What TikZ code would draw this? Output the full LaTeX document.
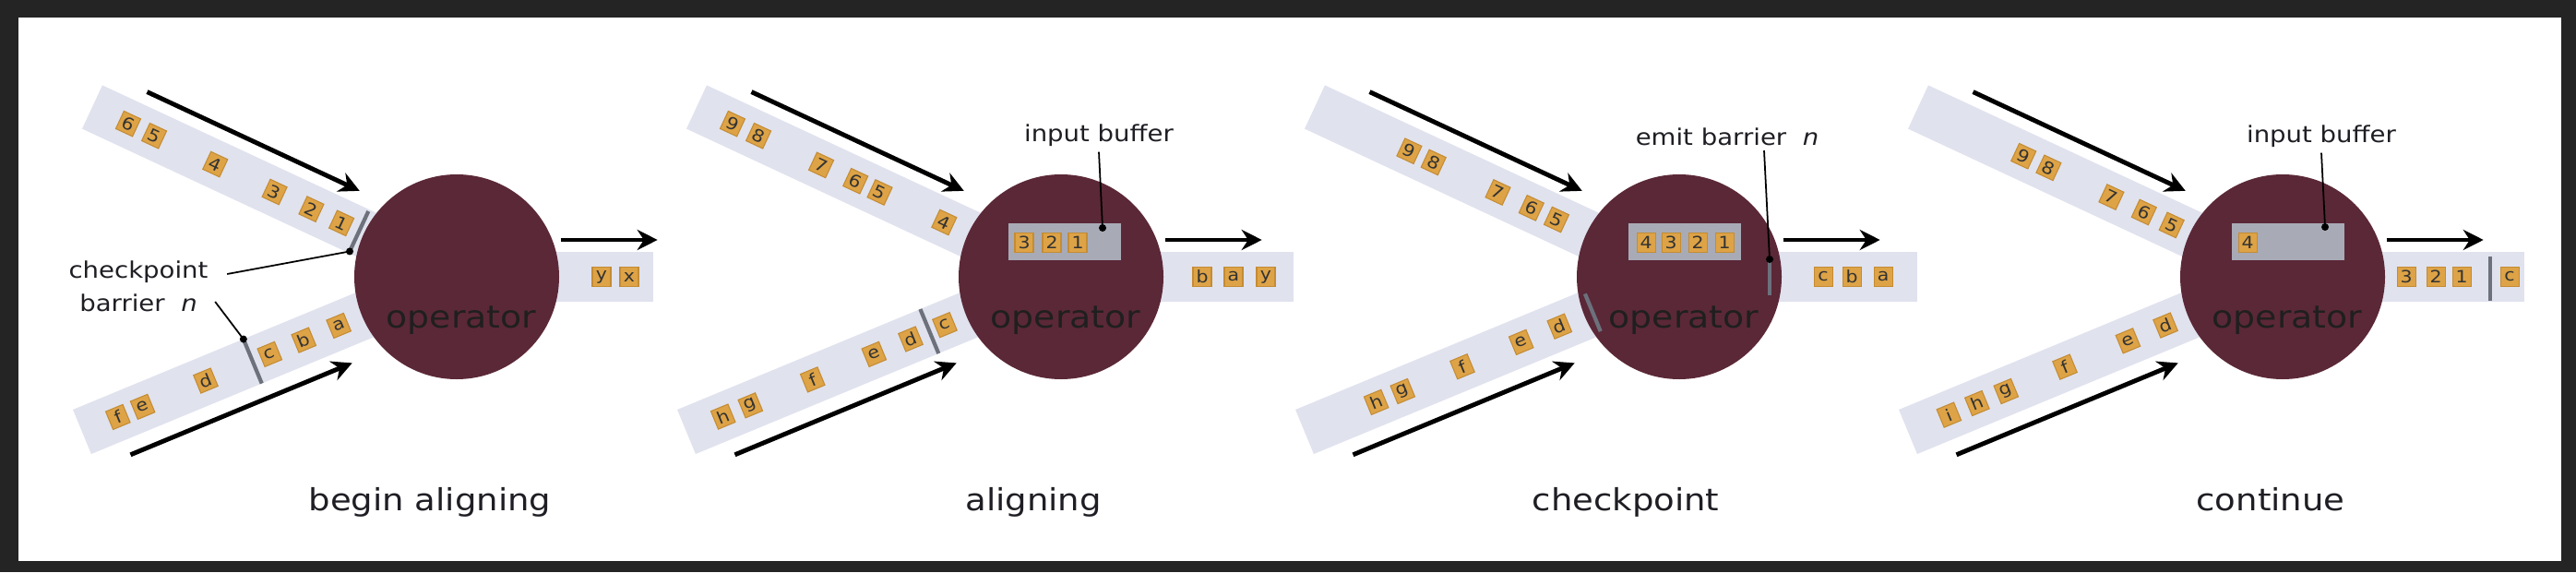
\documentclass[tikz,border=0pt]{standalone}
\usepackage{fontspec}
\setmainfont{DejaVu Sans}[FakeStretch=1.12]
\usepackage{tikz}
\usetikzlibrary{arrows.meta,calc}

\definecolor{framec}{RGB}{36,36,36}
\definecolor{bandc}{RGB}{224,226,238}
\definecolor{opc}{RGB}{91,40,55}
\definecolor{tokc}{RGB}{221,163,70}
\definecolor{tokd}{RGB}{196,140,52}
\definecolor{bufc}{RGB}{168,171,182}
\definecolor{barc}{RGB}{108,113,124}
\definecolor{textc}{RGB}{30,30,36}

\begin{document}
\begin{tikzpicture}[
  band/.style={draw=bandc, line width=0.52cm},
  outband/.style={draw=bandc, line width=0.54cm},
  op/.style={circle, fill=opc, minimum size=2.22cm, inner sep=0pt},
  optext/.style={anchor=base, font=\fontsize{9.6}{11}\selectfont, text=black!88},
  tok/.style={draw=tokd, line width=0.3pt, fill=tokc, minimum width=0.20cm,
              minimum height=0.21cm, inner sep=0pt, text=black!80,
              font=\fontsize{5.2}{5}\selectfont},
  buf/.style={fill=bufc, minimum width=1.22cm, minimum height=0.40cm, inner sep=0pt},
  flow/.style={-{Stealth[length=2.2mm,width=2.2mm]}, line width=1.4pt},
  barrier/.style={draw=barc, line width=1.2pt},
  lead/.style={line width=0.5pt},
  lbl/.style={font=\fontsize{7}{10.2}\selectfont, align=center, text=textc,
              inner sep=0.05cm},
  ttl/.style={anchor=base, font=\fontsize{9.4}{11}\selectfont, text=textc}
]
% Frame
\fill[framec] (0,0) rectangle (27.92,6.20);
\fill[white] (0.20,0.12) rectangle (27.76,6.01);
\useasboundingbox (0,0) rectangle (27.92,6.20);

% Panel 1: begin aligning
\begin{scope}[shift={(4.95,3.20)}]
\coordinate (c1) at (0,0);
\coordinate (u1) at (-3.95,1.84);
\coordinate (l1) at (-4.06,-1.68);
\draw[band] (u1) -- (c1);
\draw[band] (l1) -- (c1);
\draw[outband] (c1) -- (2.13,0);
\node[op] (op1) at (c1) {};
\node[optext] (opt1) at (0.05,-0.55) {operator};
% upper input
\node[tok, rotate=-25] (t1u1) at ($(u1)!2.98cm!(c1)$) {1};
\node[tok, rotate=-25] (t1u2) at ($(u1)!2.62cm!(c1)$) {2};
\node[tok, rotate=-25] (t1u3) at ($(u1)!2.18cm!(c1)$) {3};
\node[tok, rotate=-25] (t1u4) at ($(u1)!1.47cm!(c1)$) {4};
\node[tok, rotate=-25] (t1u5) at ($(u1)!0.74cm!(c1)$) {5};
\node[tok, rotate=-25] (t1u6) at ($(u1)!0.43cm!(c1)$) {6};
\draw[barrier] ($(u1)!3.19cm!(c1)!0.24cm!90:(c1)$)
  -- ($(u1)!3.19cm!(c1)!0.24cm!-90:(c1)$) coordinate (b1u);
% lower input
\node[tok, rotate=22.5] (t1la) at ($(l1)!3.01cm!(c1)$) {a};
\node[tok, rotate=22.5] (t1lb) at ($(l1)!2.60cm!(c1)$) {b};
\node[tok, rotate=22.5] (t1lc) at ($(l1)!2.20cm!(c1)$) {c};
\node[tok, rotate=22.5] (t1ld) at ($(l1)!1.45cm!(c1)$) {d};
\node[tok, rotate=22.5] (t1le) at ($(l1)!0.71cm!(c1)$) {e};
\node[tok, rotate=22.5] (t1lf) at ($(l1)!0.42cm!(c1)$) {f};
\draw[barrier] ($(l1)!2.00cm!(c1)!0.26cm!90:(c1)$) coordinate (b1l)
  -- ($(l1)!2.00cm!(c1)!0.26cm!-90:(c1)$);
% output
\node[tok] (t1oy) at (1.57,0) {y};
\node[tok] (t1ox) at (1.87,0) {x};
% flow arrows
\draw[flow] ($(u1)!0.47cm!(c1)!0.40cm!90:(c1)$) -- ($(u1)!3.01cm!(c1)!0.40cm!90:(c1)$);
\draw[flow] ($(l1)!0.39cm!(c1)!0.43cm!-90:(c1)$) -- ($(l1)!2.99cm!(c1)!0.43cm!-90:(c1)$);
\draw[flow] ($(op1.east)+(0.01,0.40)$) -- ++(1.05,0);
% barrier label
\node[lbl] (lbl1) at (-3.45,-0.10) {checkpoint\\barrier\ \ \textit{n}};
\draw[lead] ($(lbl1.east)+(0.15,0.13)$) -- (b1u);
\fill (b1u) circle (0.04);
\draw[lead] ($(lbl1.east)+(0.02,-0.17)$) -- (b1l);
\fill (b1l) circle (0.04);
\node[ttl] (ttl1) at (-0.29,-2.53) {begin aligning};
\end{scope}

% Panel 2: aligning
\begin{scope}[shift={(11.50,3.20)}]
\coordinate (c2) at (0,0);
\coordinate (u2) at (-3.95,1.84);
\coordinate (l2) at (-4.06,-1.68);
\draw[band] (u2) -- (c2);
\draw[band] (l2) -- (c2);
\draw[outband] (c2) -- (2.52,0);
\node[op] (op2) at (c2) {};
\node[optext] (opt2) at (0.05,-0.55) {operator};
% upper input
\node[tok, rotate=-25] (t2u4) at ($(u2)!2.96cm!(c2)$) {4};
\node[tok, rotate=-25] (t2u5) at ($(u2)!2.19cm!(c2)$) {5};
\node[tok, rotate=-25] (t2u6) at ($(u2)!1.90cm!(c2)$) {6};
\node[tok, rotate=-25] (t2u7) at ($(u2)!1.49cm!(c2)$) {7};
\node[tok, rotate=-25] (t2u8) at ($(u2)!0.74cm!(c2)$) {8};
\node[tok, rotate=-25] (t2u9) at ($(u2)!0.43cm!(c2)$) {9};
% lower input
\node[tok, rotate=22.5] (t2lc) at ($(l2)!3.03cm!(c2)$) {c};
\node[tok, rotate=22.5] (t2ld) at ($(l2)!2.63cm!(c2)$) {d};
\node[tok, rotate=22.5] (t2le) at ($(l2)!2.20cm!(c2)$) {e};
\node[tok, rotate=22.5] (t2lf) at ($(l2)!1.48cm!(c2)$) {f};
\node[tok, rotate=22.5] (t2lg) at ($(l2)!0.75cm!(c2)$) {g};
\node[tok, rotate=22.5] (t2lh) at ($(l2)!0.43cm!(c2)$) {h};
\draw[barrier] ($(l2)!2.85cm!(c2)!0.26cm!90:(c2)$)
  -- ($(l2)!2.85cm!(c2)!0.26cm!-90:(c2)$);
% input buffer
\node[buf] (buf2) at (0.04,0.38) {};
\node[tok] (t2b3) at (-0.40,0.37) {3};
\node[tok] (t2b2) at (-0.10,0.37) {2};
\node[tok] (t2b1) at (0.18,0.37) {1};
\coordinate (d2) at (0.45,0.53);
\node[lbl] (lbl2) at (0.41,1.53) {input buffer};
\draw[lead] (lbl2.south) -- (d2);
\fill (d2) circle (0.04);
% output
\node[tok] (t2ob) at (1.53,0) {b};
\node[tok] (t2oa) at (1.87,0) {a};
\node[tok] (t2oy) at (2.22,0) {y};
% flow arrows
\draw[flow] ($(u2)!0.47cm!(c2)!0.40cm!90:(c2)$) -- ($(u2)!3.01cm!(c2)!0.40cm!90:(c2)$);
\draw[flow] ($(l2)!0.39cm!(c2)!0.43cm!-90:(c2)$) -- ($(l2)!2.99cm!(c2)!0.43cm!-90:(c2)$);
\draw[flow] ($(op2.east)+(0.01,0.40)$) -- ++(1.05,0);
\node[ttl] (ttl2) at (-0.30,-2.53) {aligning};
\end{scope}

% Panel 3: checkpoint
\begin{scope}[shift={(18.20,3.20)}]
\coordinate (c3) at (0,0);
\coordinate (u3) at (-3.95,1.84);
\coordinate (l3) at (-4.06,-1.68);
\draw[band] (u3) -- (c3);
\draw[band] (l3) -- (c3);
\draw[outband] (c3) -- (2.58,0);
\node[op] (op3) at (c3) {};
\node[optext] (opt3) at (0.05,-0.55) {operator};
% upper input
\node[tok, rotate=-25] (t3u5) at ($(u3)!2.89cm!(c3)$) {5};
\node[tok, rotate=-25] (t3u6) at ($(u3)!2.59cm!(c3)$) {6};
\node[tok, rotate=-25] (t3u7) at ($(u3)!2.19cm!(c3)$) {7};
\node[tok, rotate=-25] (t3u8) at ($(u3)!1.42cm!(c3)$) {8};
\node[tok, rotate=-25] (t3u9) at ($(u3)!1.13cm!(c3)$) {9};
% lower input
\node[tok, rotate=22.5] (t3ld) at ($(l3)!2.99cm!(c3)$) {d};
\node[tok, rotate=22.5] (t3le) at ($(l3)!2.54cm!(c3)$) {e};
\node[tok, rotate=22.5] (t3lf) at ($(l3)!1.85cm!(c3)$) {f};
\node[tok, rotate=22.5] (t3lg) at ($(l3)!1.15cm!(c3)$) {g};
\node[tok, rotate=22.5] (t3lh) at ($(l3)!0.84cm!(c3)$) {h};
\draw[barrier] ($(l3)!3.38cm!(c3)!0.22cm!90:(c3)$)
  -- ($(l3)!3.38cm!(c3)!0.22cm!-90:(c3)$);
% input buffer
\node[buf] (buf3) at (0.06,0.38) {};
\node[tok] (t3b4) at (-0.36,0.37) {4};
\node[tok] (t3b3) at (-0.09,0.37) {3};
\node[tok] (t3b2) at (0.20,0.37) {2};
\node[tok] (t3b1) at (0.49,0.37) {1};
% emitted barrier
\coordinate (d3) at (0.98,0.19);
\draw[barrier] (d3) -- (0.98,-0.20);
\node[lbl] (lbl3) at (0.52,1.52) {emit barrier\ \ \textit{n}};
\draw[lead] ($(lbl3.south)+(0.40,0)$) -- (d3);
\fill (d3) circle (0.04);
% output
\node[tok] (t3oc) at (1.56,0) {c};
\node[tok] (t3ob) at (1.87,0) {b};
\node[tok] (t3oa) at (2.21,0) {a};
% flow arrows
\draw[flow] ($(u3)!0.47cm!(c3)!0.40cm!90:(c3)$) -- ($(u3)!3.01cm!(c3)!0.40cm!90:(c3)$);
\draw[flow] ($(l3)!0.39cm!(c3)!0.43cm!-90:(c3)$) -- ($(l3)!2.99cm!(c3)!0.43cm!-90:(c3)$);
\draw[flow] ($(op3.east)+(0.01,0.40)$) -- ++(1.05,0);
\node[ttl] (ttl3) at (-0.58,-2.53) {checkpoint};
\end{scope}

% Panel 4: continue
\begin{scope}[shift={(24.74,3.20)}]
\coordinate (c4) at (0,0);
\coordinate (u4) at (-3.95,1.84);
\coordinate (l4) at (-4.06,-1.68);
\draw[band] (u4) -- (c4);
\draw[band] (l4) -- (c4);
\draw[outband] (c4) -- (2.62,0);
\node[op] (op4) at (c4) {};
\node[optext] (opt4) at (0.05,-0.55) {operator};
% upper input
\node[tok, rotate=-25] (t4u5) at ($(u4)!3.03cm!(c4)$) {5};
\node[tok, rotate=-25] (t4u6) at ($(u4)!2.70cm!(c4)$) {6};
\node[tok, rotate=-25] (t4u7) at ($(u4)!2.31cm!(c4)$) {7};
\node[tok, rotate=-25] (t4u8) at ($(u4)!1.56cm!(c4)$) {8};
\node[tok, rotate=-25] (t4u9) at ($(u4)!1.26cm!(c4)$) {9};
% lower input
\node[tok, rotate=22.5] (t4ld) at ($(l4)!3.02cm!(c4)$) {d};
\node[tok, rotate=22.5] (t4le) at ($(l4)!2.58cm!(c4)$) {e};
\node[tok, rotate=22.5] (t4lf) at ($(l4)!1.84cm!(c4)$) {f};
\node[tok, rotate=22.5] (t4lg) at ($(l4)!1.15cm!(c4)$) {g};
\node[tok, rotate=22.5] (t4lh) at ($(l4)!0.81cm!(c4)$) {h};
\node[tok, rotate=22.5] (t4li) at ($(l4)!0.48cm!(c4)$) {i};
% input buffer
\node[buf] (buf4) at (0.06,0.38) {};
\node[tok] (t4b4) at (-0.38,0.37) {4};
\coordinate (d4) at (0.46,0.54);
\node[lbl] (lbl4) at (0.42,1.52) {input buffer};
\draw[lead] (lbl4.south) -- (d4);
\fill (d4) circle (0.04);
% output
\node[tok] (t4o3) at (1.34,0) {3};
\node[tok] (t4o2) at (1.66,0) {2};
\node[tok] (t4o1) at (1.94,0) {1};
\draw[barrier] (2.25,0.22) -- (2.25,-0.26);
\node[tok] (t4oc) at (2.46,0) {c};
% flow arrows
\draw[flow] ($(u4)!0.47cm!(c4)!0.40cm!90:(c4)$) -- ($(u4)!3.01cm!(c4)!0.40cm!90:(c4)$);
\draw[flow] ($(l4)!0.39cm!(c4)!0.43cm!-90:(c4)$) -- ($(l4)!2.99cm!(c4)!0.43cm!-90:(c4)$);
\draw[flow] ($(op4.east)+(0.01,0.40)$) -- ++(1.05,0);
\node[ttl] (ttl4) at (-0.13,-2.53) {continue};
\end{scope}
\end{tikzpicture}
\end{document}
